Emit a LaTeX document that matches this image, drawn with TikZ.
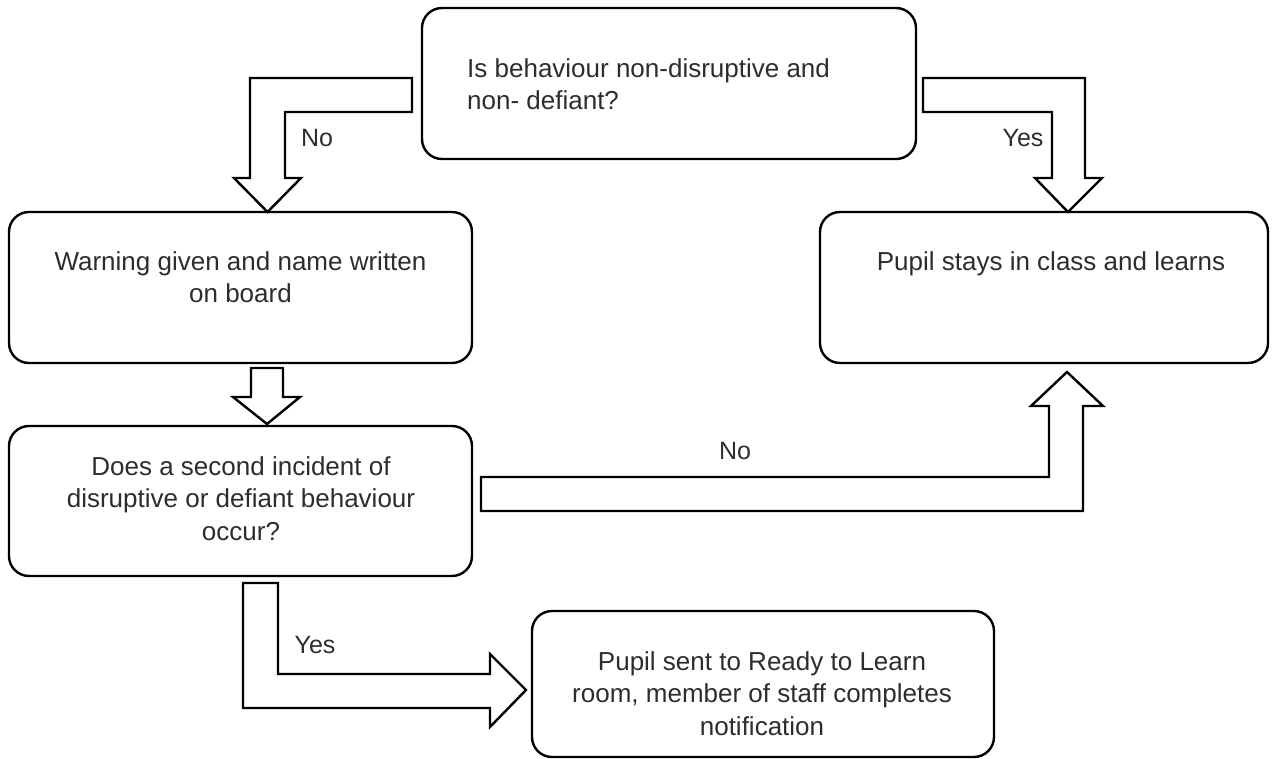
\documentclass[tikz,border=0pt]{standalone}
\usepackage{fontspec}
\setmainfont{Liberation Sans}
\definecolor{txtc}{RGB}{45,45,45}
\begin{document}
\begin{tikzpicture}[x=1pt,y=-1pt,
  box/.style={draw=black,line width=2.4pt,rounded corners=20pt,inner sep=0pt},
  txt/.style={text=txtc,font=\fontsize{26}{32.3}\selectfont,inner sep=0pt,anchor=north},
  lbl/.style={text=txtc,font=\fontsize{25}{28}\selectfont,inner sep=0pt,anchor=base},
  blk/.style={draw=black,fill=white,line width=2.4pt,line join=miter}]
\useasboundingbox (0,0) rectangle (1278,759);
% boxes
\node[box,minimum width=494pt,minimum height=151pt] (q) at (669,83.5) {};
\node[box,minimum width=463pt,minimum height=151pt] (warn) at (240.5,287.5) {};
\node[box,minimum width=448pt,minimum height=151pt] (stay) at (1044,287.5) {};
\node[box,minimum width=463pt,minimum height=150pt] (second) at (240.5,501) {};
\node[box,minimum width=462pt,minimum height=146pt] (sent) at (763,684) {};
% texts
\node[txt,anchor=north west,align=left] (qt) at (467,58.5) {Is behaviour non-disruptive and\\non- defiant?};
\node[txt,align=center] (warnt) at (240.5,251.5) {Warning given and name written\\on board};
\node[txt,align=center] (stayt) at (1051,251.5) {Pupil stays in class and learns};
\node[txt,align=center] (secondt) at (241,456.5) {Does a second incident of\\disruptive or defiant behaviour\\occur?};
\node[txt,align=center] (sentt) at (762,651.5) {Pupil sent to Ready to Learn\\room, member of staff completes\\notification};
% block arrows
\draw[blk] (412,78) -- (250,78) -- (250,178) -- (234,178) -- (267.5,212) -- (301,178) -- (285,178) -- (285,112) -- (412,112) -- cycle;
\draw[blk] (923,78) -- (1085,78) -- (1085,178) -- (1102,178) -- (1068,212) -- (1035,178) -- (1052,178) -- (1052,112) -- (923,112) -- cycle;
\draw[blk] (251,368) -- (283,368) -- (283,397) -- (300,397) -- (267,424) -- (233,397) -- (251,397) -- cycle;
\draw[blk] (481,477) -- (1049,477) -- (1049,406) -- (1031,406) -- (1067,372) -- (1103,406) -- (1083,406) -- (1083,511) -- (481,511) -- cycle;
\draw[blk] (243,583) -- (278,583) -- (278,674) -- (490,674) -- (490,654) -- (526,690) -- (490,727) -- (490,708) -- (243,708) -- cycle;
% labels
\node[lbl] (l1) at (317,147) {No};
\node[lbl] (l2) at (1023,147) {Yes};
\node[lbl] (l3) at (735,460) {No};
\node[lbl] (l4) at (315,653) {Yes};
\end{tikzpicture}
\end{document}
